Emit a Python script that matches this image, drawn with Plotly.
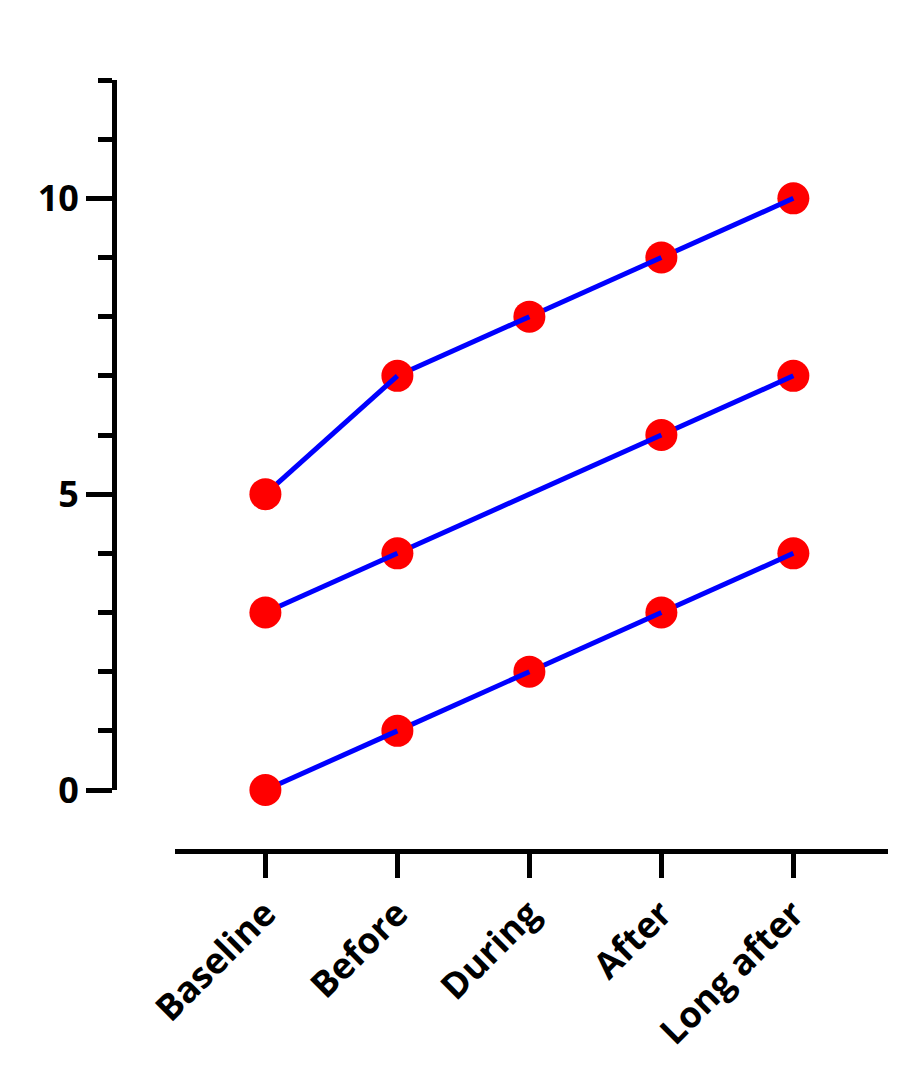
import plotly.graph_objects as go

categories = ["Baseline", "Before", "During", "After", "Long after"]
series_top = [5, 7, 8, 9, 10]
series_mid = [3, 4, None, 6, 7]
series_bot = [0, 1, 2, 3, 4]
y_ticks = [0, 5, 10]

LINE_COLOR = "#0000FF"
MARK_COLOR = "#FF0000"

fig = go.Figure()
xs = list(range(len(categories)))

for series in [series_top, series_mid, series_bot]:
    valid = [i for i in xs if series[i] is not None]
    # draw from the end backwards: marker i, then segment (prev -> i) on top
    for k in range(len(valid) - 1, -1, -1):
        i = valid[k]
        fig.add_trace(go.Scatter(
            x=[i], y=[series[i]], mode="markers",
            marker=dict(color=MARK_COLOR, size=32, line=dict(width=0)),
            cliponaxis=False, showlegend=False, hoverinfo="skip"))
        if k > 0:
            p = valid[k - 1]
            fig.add_trace(go.Scatter(
                x=[p, i], y=[series[p], series[i]], mode="lines",
                line=dict(color=LINE_COLOR, width=5),
                cliponaxis=False, showlegend=False, hoverinfo="skip"))

font = dict(family="Open Sans", size=36, color="black", weight="bold")

fig.update_layout(
    width=915, height=1092,
    margin=dict(l=106, r=35, t=72, b=249),
    plot_bgcolor="white", paper_bgcolor="white",
    showlegend=False,
    xaxis=dict(
        domain=[0.0788, 1], anchor="free", position=0,
        range=[-0.685, 4.717],
        tickvals=xs, ticktext=categories, tickangle=-45,
        showline=True, linecolor="black", linewidth=5,
        ticks="outside", ticklen=24, tickwidth=5, tickcolor="black",
        showgrid=False, zeroline=False, tickfont=font, automargin=False,
    ),
    yaxis=dict(
        domain=[0.0791, 1], anchor="free", position=0,
        range=[0, 12],
        tickvals=y_ticks, ticktext=[str(v) for v in y_ticks],
        showline=True, linecolor="black", linewidth=5,
        ticks="outside", ticklen=26, tickwidth=5, tickcolor="black",
        minor=dict(dtick=1, ticks="outside", ticklen=14, tickwidth=5, tickcolor="black"),
        showgrid=False, zeroline=False, tickfont=font, automargin=False,
    ),
)

fig.write_html("out.html")
